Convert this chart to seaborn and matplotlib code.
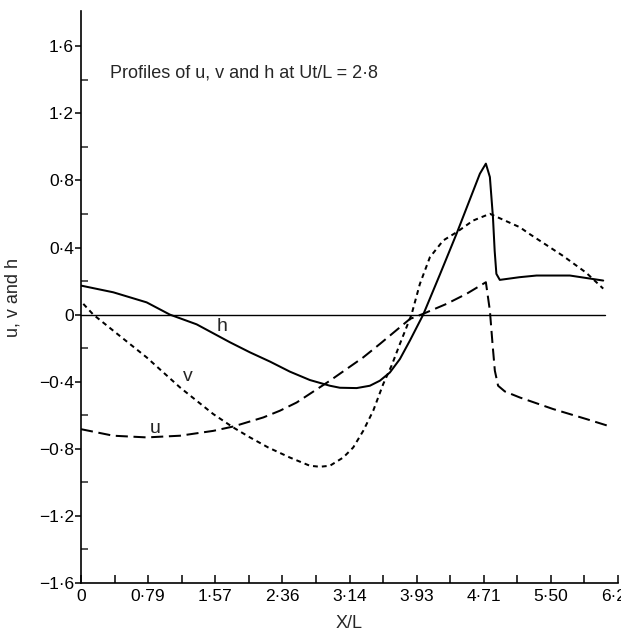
import numpy as np
import pandas as pd
import matplotlib
matplotlib.use("Agg")
import matplotlib.pyplot as plt
import seaborn as sns

# ---- data ----
h_x = [0.0, 0.378, 0.768, 1.04, 1.353, 1.743, 1.977, 2.211, 2.444, 2.678, 2.912, 3.029, 3.225, 3.380,
       3.497, 3.614, 3.731, 3.848, 4.004, 4.20, 4.394, 4.667, 4.737, 4.784, 4.82, 4.84, 4.86, 4.90,
       5.13, 5.33, 5.72, 6.11]
h_y = [0.173, 0.133, 0.073, 0.0, -0.058, -0.165, -0.225, -0.28, -0.34, -0.39, -0.424, -0.436, -0.438,
       -0.424, -0.394, -0.345, -0.265, -0.155, 0.0, 0.24, 0.482, 0.84, 0.90, 0.82, 0.58, 0.38, 0.243,
       0.207, 0.223, 0.233, 0.233, 0.203]

v_x = [0.027, 0.144, 0.378, 0.768, 1.158, 1.548, 1.782, 1.977, 2.19, 2.444, 2.678, 2.795, 2.912, 3.068,
       3.185, 3.302, 3.419, 3.536, 3.634, 3.731, 3.867, 3.965, 4.082, 4.238, 4.394, 4.589, 4.784,
       5.134, 5.25, 5.64, 5.91, 6.11]
v_y = [0.064, 0.0, -0.096, -0.255, -0.434, -0.593, -0.673, -0.732, -0.792, -0.852, -0.901, -0.907,
       -0.901, -0.852, -0.792, -0.693, -0.573, -0.414, -0.304, -0.175, 0.0, 0.183, 0.342, 0.442, 0.491,
       0.561, 0.601, 0.521, 0.48, 0.35, 0.25, 0.155]

u_x = [0.0, 0.378, 0.768, 1.158, 1.548, 1.782, 2.133, 2.327, 2.523, 2.912, 3.302, 3.497, 3.848, 4.0,
       4.277, 4.511, 4.737, 4.784, 4.815, 4.842, 4.88, 4.959, 5.134, 5.524, 5.915, 6.167]
u_y = [-0.683, -0.722, -0.732, -0.722, -0.693, -0.667, -0.613, -0.573, -0.524, -0.394, -0.255, -0.175,
       -0.026, 0.004, 0.064, 0.124, 0.193, 0.024, -0.175, -0.334, -0.424, -0.458, -0.494, -0.563,
       -0.623, -0.663]

x_major = [0.0, 0.785, 1.571, 2.356, 3.142, 3.927, 4.712, 5.498, 6.283]
x_labels = ["0", "0·79", "1·57", "2·36", "3·14", "3·93", "4·71", "5·50", "6·28"]
x_minor = [0.393, 1.178, 1.963, 2.749, 3.534, 4.320, 5.105, 5.890]
y_major = [-1.6, -1.2, -0.8, -0.4, 0.0, 0.4, 0.8, 1.2, 1.6]
y_labels = ["−1·6", "−1·2", "−0·8", "−0·4", "0", "0·4", "0·8", "1·2", "1·6"]
y_minor = [-1.4, -1.0, -0.6, -0.2, 0.2, 0.6, 1.0, 1.4]

curve_labels = ["h", "v", "u"]
curve_label_pos = [(1.65, -0.07), (1.25, -0.37), (0.87, -0.68)]

title = "Profiles of u, v and h at Ut/L = 2·8"

# ---- build frame ----
df = pd.concat([
    pd.DataFrame({"x": h_x, "y": h_y, "series": "h"}),
    pd.DataFrame({"x": v_x, "y": v_y, "series": "v"}),
    pd.DataFrame({"x": u_x, "y": u_y, "series": "u"}),
], ignore_index=True)

sns.set_style("ticks")
plt.rcParams["font.family"] = ["Liberation Sans", "DejaVu Sans"]

fig = plt.figure(figsize=(6.21, 6.31), dpi=100)
ax = fig.add_axes([81 / 621, 1 - 583 / 631, (618 - 81) / 621, (583 - 11) / 631])

sns.lineplot(data=df, x="x", y="y", style="series", units="series", estimator=None, sort=False,
             dashes={"h": "", "v": (2.4, 2.0), "u": (6.0, 2.8)}, color="black", linewidth=1.45,
             legend=False, ax=ax)

ax.axhline(0, xmin=0, xmax=6.13 / 6.283, color="black", linewidth=1.0)

ax.set_xlim(0, 6.283)
ax.set_ylim(-1.6, 1.81)

ax.set_xticks(x_major)
ax.set_xticklabels(x_labels)
ax.set_xticks(x_minor, minor=True)
ax.set_yticks(y_major)
ax.set_yticklabels(y_labels)
ax.set_yticks(y_minor, minor=True)

ax.tick_params(axis="x", which="both", direction="in", length=6, width=1.1, labelsize=12.5, pad=4,
               colors="black")
ax.tick_params(axis="y", which="major", direction="out", length=4, width=1.1, labelsize=12.5, pad=1,
               colors="black")
ax.tick_params(axis="y", which="minor", direction="in", length=5, width=1.1)

for s in ["top", "right"]:
    ax.spines[s].set_visible(False)
for s in ["left", "bottom"]:
    ax.spines[s].set_linewidth(1.2)
    ax.spines[s].set_color("black")

ax.set_xlabel("X/L", fontsize=13)
ax.set_ylabel("u, v and h", fontsize=13)
ax.xaxis.set_label_coords(0.5, -0.056)
ax.yaxis.set_label_coords(-0.11, 0.5)

ax.text(0.34, 1.44, title, fontsize=13, va="center", ha="left")
for lab, (lx, ly) in zip(curve_labels, curve_label_pos):
    ax.text(lx, ly, lab, fontsize=14, ha="center", va="center")

fig.savefig("out.png", dpi=100)
